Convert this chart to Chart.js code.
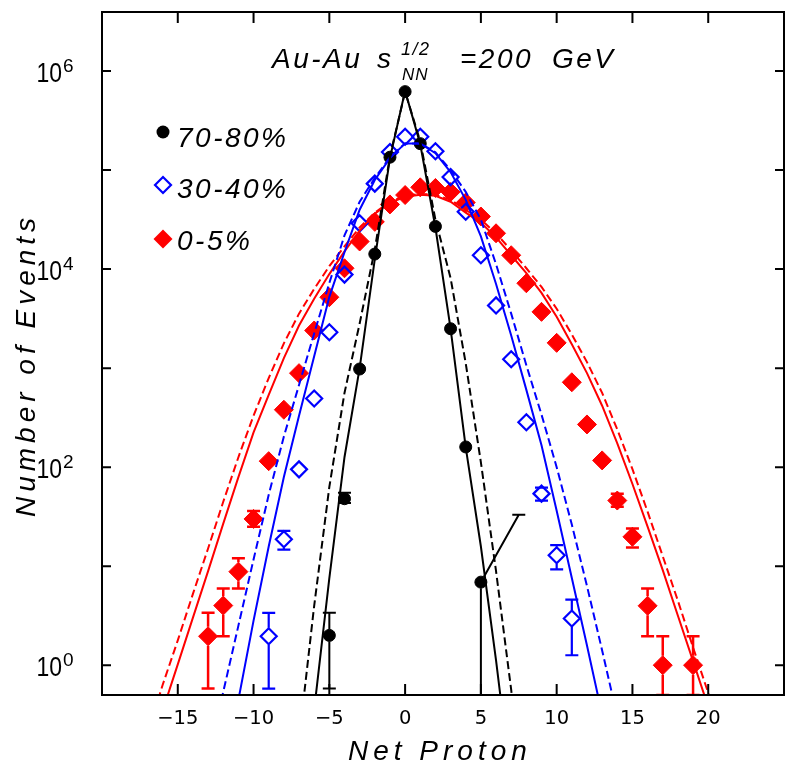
<!DOCTYPE html>
<html>
<head>
<meta charset="utf-8">
<script src="https://cdn.jsdelivr.net/npm/chart.js@4.4.1/dist/chart.umd.min.js"></script>
<style>
html,body{margin:0;padding:0;background:#fff;}
canvas{display:block;}
</style>
</head>
<body>
<canvas id="c" width="785" height="765"></canvas>
<script>
// ---------------- data ----------------
const titleText = ['Au-Au', 's', '1/2', 'NN', '=200', 'GeV'];
const xAxisTitle = 'Net Proton';
const yAxisTitle = 'Number of Events';
const seriesNames = ['70-80%', '30-40%', '0-5%'];

const xTicks = [-15, -10, -5, 0, 5, 10, 15, 20];
const yTickValues = [1, 10, 100, 1000, 1e4, 1e5, 1e6];
const yLabelValues = [1, 100, 1e4, 1e6];
const yLabelExps = ['0', '2', '4', '6'];

// 70-80% centrality (filled circles)
const x7080 = [-5, -4, -3, -2, -1, 0, 1, 2, 3, 4, 5];
const y7080 = [2.0, 48, 980, 14200, 135000, 620000, 185000, 27000, 2500, 160, 6.9];
const lo7080 = [0.58, 43.5, null, null, null, null, null, null, null, null, 0.5];
const hi7080 = [3.38, 55, null, null, null, null, null, null, null, null, 33];
const hiX7080 = [null, null, null, null, null, null, null, null, null, null, 7.5]; // upper bar drawn slanted in the source

// 30-40% centrality (open diamonds)
const x3040 = [-9, -8, -7, -6, -5, -4, -3, -2, -1, 0, 1, 2, 3, 4, 5, 6, 7, 8, 9, 10, 11];
const y3040 = [1.96, 18.7, 95, 494, 2300, 8800, 29000, 73000, 152000, 217000, 217000, 155000, 85000, 38000, 13800, 4300, 1230, 284, 54, 12.9, 2.96];
const lo3040 = [0.58, 14.7, null, null, null, null, null, null, null, null, null, null, null, null, null, null, null, null, 46, 9.3, 1.26];
const hi3040 = [3.38, 22.7, null, null, null, null, null, null, null, null, null, null, null, null, null, null, null, null, 62, 16.3, 4.6];

// 0-5% centrality (filled diamonds)
const x05 = [-13, -12, -11, -10, -9, -8, -7, -6, -5, -4, -3, -2, -1, 0, 1, 2, 3, 4, 5, 6, 7, 8, 9, 10, 11, 12, 13, 14, 15, 16, 17, 19];
const y05 = [1.96, 4.0, 8.8, 30, 115, 380, 890, 2400, 5200, 10200, 19000, 30000, 45000, 56000, 67000, 66000, 60000, 47000, 34000, 23000, 13800, 7200, 3700, 1800, 720, 270, 117, 46, 19.8, 3.98, 1, 1];
const lo05 = [0.58, 1.96, 5.95, 25, null, null, null, null, null, null, null, null, null, null, null, null, null, null, null, null, null, null, null, null, null, null, null, 39.8, 15.4, 1.96, 0.5, 0.5];
const hi05 = [3.38, 5.95, 12, 36, null, null, null, null, null, null, null, null, null, null, null, null, null, null, null, null, null, null, null, null, null, null, null, 54, 24, 5.95, 1.96, 1.96];

// model curves (solid and dashed), read at integer net-proton values
const xBlackSolid = [-6, -5, -4, -3, -2, -1, 0, 1, 2, 3, 4, 5, 6, 7];
const yBlackSolid = [0.355, 7.59, 126, 1000, 12600, 132000, 631000, 182000, 26300, 2510, 158, 15.8, 1.12, 0.063];
const xBlackDash = [-7, -6, -5, -4, -3, -2, -1, 0, 1, 2, 3, 4, 5, 6, 7, 8];
const yBlackDash = [0.178, 3.98, 63.1, 562, 2820, 15800, 138000, 617000, 195000, 31600, 8130, 1120, 112, 8.91, 0.562, 0.0251];

const xBlueSolid = [-11, -10, -9, -8, -7, -6, -5, -4, -3, -2, -1, 0, 1, 2, 3, 4, 5, 6, 7, 8, 9, 10, 11, 12, 13];
const yBlueSolid = [0.447, 2.82, 15.8, 79.4, 331, 1320, 5250, 14800, 39800, 79400, 132000, 186000, 186000, 148000, 95500, 50100, 21400, 7080, 2140, 603, 166, 36.3, 7.59, 1.58, 0.316];
const xBlueDash = [-13, -12, -11, -10, -9, -8, -7, -6, -5, -4, -3, -2, -1, 0, 1, 2, 3, 4, 5, 6, 7, 8, 9, 10, 11, 12, 13, 14];
const yBlueDash = [0.112, 0.537, 2.51, 11.7, 52.5, 204, 676, 2240, 7240, 21900, 47900, 83200, 135000, 186000, 186000, 151000, 100000, 60300, 31600, 11200, 3550, 1070, 339, 100, 26.3, 6.31, 1.41, 0.302];

const xRedSolid = [-16, -15, -14, -13, -12, -11, -10, -9, -8, -7, -6, -5, -4, -3, -2, -1, 0, 1, 2, 3, 4, 5, 6, 7, 8, 9, 10, 11, 12, 13, 14, 15, 16, 17, 18, 19, 20];
const yRedSolid = [0.347, 1.02, 3.02, 8.91, 26.9, 79.4, 224, 537, 1260, 2690, 5010, 8910, 15100, 24500, 36300, 46800, 53700, 56200, 55000, 47900, 37200, 29500, 20900, 13800, 9120, 5750, 3310, 1740, 891, 417, 174, 67.6, 25.1, 9.12, 3.16, 1.10, 0.380];
const xRedDash = [-17, -16, -15, -14, -13, -12, -11, -10, -9, -8, -7, -6, -5, -4, -3, -2, -1, 0, 1, 2, 3, 4, 5, 6, 7, 8, 9, 10, 11, 12, 13, 14, 15, 16, 17, 18, 19, 20, 21];
const yRedDash = [0.2, 0.631, 1.78, 5.25, 15.1, 44.7, 126, 331, 794, 1780, 3550, 6310, 10700, 17000, 26300, 37200, 47900, 55000, 57500, 56200, 50100, 39800, 31600, 22900, 15500, 10200, 6610, 3980, 2190, 1150, 562, 240, 95.5, 35.5, 12.6, 4.47, 1.51, 0.525, 0.178];

// ---------------- helpers ----------------
const BLACK = '#000000', BLUE = '#0000ff', RED = '#ff0000';
const TEXT_FONT = '"Liberation Sans", Arial, sans-serif';
function pts(xs, ys) { return xs.map((v, i) => ({ x: v, y: ys[i] })); }

const errorSets = [
  { xs: x7080, ys: y7080, lo: lo7080, hi: hi7080, hiX: hiX7080, color: BLACK, gap: 6, lw: 2 },
  { xs: x3040, ys: y3040, lo: lo3040, hi: hi3040, hiX: null, color: BLUE, gap: 8.5, lw: 2.2 },
  { xs: x05, ys: y05, lo: lo05, hi: hi05, hiX: null, color: RED, gap: 9.5, lw: 2.5 }
];

const overlayPlugin = {
  id: 'overlay',
  afterDatasetsDraw(chart) {
    const { ctx, chartArea: a, scales: { x, y } } = chart;
    ctx.save();
    ctx.beginPath();
    ctx.rect(a.left, a.top, a.right - a.left, a.bottom - a.top + 1);
    ctx.clip();
    const cap = 6.5;
    errorSets.forEach(s => {
      ctx.strokeStyle = s.color;
      ctx.lineWidth = s.lw;
      s.xs.forEach((xv, i) => {
        const lo = s.lo[i], hi = s.hi[i];
        if (lo == null && hi == null) return;
        const px = x.getPixelForValue(xv);
        const py = y.getPixelForValue(s.ys[i]);
        ctx.beginPath();
        if (hi != null) {
          const hx = (s.hiX && s.hiX[i] != null) ? x.getPixelForValue(s.hiX[i]) : px;
          const hy = y.getPixelForValue(hi);
          if (hx !== px) {
            const dx = hx - px, dy = hy - py, L = Math.hypot(dx, dy);
            ctx.moveTo(px + dx / L * s.gap, py + dy / L * s.gap);
            ctx.lineTo(hx, hy);
          } else if (py - hy > s.gap) {
            ctx.moveTo(px, py - s.gap);
            ctx.lineTo(px, hy);
          }
          ctx.moveTo(hx - cap, hy);
          ctx.lineTo(hx + cap, hy);
        }
        if (lo != null) {
          const ly = y.getPixelForValue(lo);
          if (ly - py > s.gap) {
            ctx.moveTo(px, py + s.gap);
            ctx.lineTo(px, ly);
          }
          ctx.moveTo(px - cap, ly);
          ctx.lineTo(px + cap, ly);
        }
        ctx.stroke();
      });
    });
    ctx.restore();
  },
  afterDraw(chart) {
    const { ctx, chartArea: a, scales: { x, y } } = chart;
    ctx.save();
    // frame
    ctx.strokeStyle = BLACK;
    ctx.lineWidth = 2;
    ctx.strokeRect(a.left, a.top, a.right - a.left, a.bottom - a.top);
    // inner ticks
    ctx.beginPath();
    xTicks.forEach(v => {
      const px = x.getPixelForValue(v);
      ctx.moveTo(px, a.bottom); ctx.lineTo(px, a.bottom - 11);
      ctx.moveTo(px, a.top); ctx.lineTo(px, a.top + 11);
    });
    yTickValues.forEach(v => {
      const py = y.getPixelForValue(v);
      ctx.moveTo(a.left, py); ctx.lineTo(a.left + 9, py);
      ctx.moveTo(a.right, py); ctx.lineTo(a.right - 9, py);
    });
    ctx.stroke();

    // y tick labels 10^n
    ctx.fillStyle = BLACK;
    yLabelValues.forEach((v, i) => {
      const py = y.getPixelForValue(v);
      ctx.save();
      ctx.translate(a.left - 40, py + 11);
      ctx.scale(0.82, 1);
      ctx.font = '28px ' + TEXT_FONT;
      ctx.textAlign = 'right';
      ctx.textBaseline = 'alphabetic';
      ctx.fillText('10', 0, 0);
      ctx.restore();
      ctx.font = '19px ' + TEXT_FONT;
      ctx.textAlign = 'left';
      ctx.fillText(yLabelExps[i], a.left - 39, py + 1);
    });

    // italic texts
    ctx.textAlign = 'left';
    ctx.textBaseline = 'alphabetic';
    const it = (size, spacing) => {
      ctx.font = 'italic ' + size + 'px ' + TEXT_FONT;
      try { ctx.letterSpacing = spacing + 'px'; } catch (e) {}
    };
    // title
    it(28, 2.5);
    ctx.fillText(titleText[0], 272, 68);
    ctx.fillText(titleText[1], 377, 68);
    ctx.fillText(titleText[4], 460, 68);
    ctx.fillText(titleText[5], 552, 68);
    it(18, 1.5);
    ctx.fillText(titleText[2], 401, 55);
    it(17, 1);
    ctx.fillText(titleText[3], 402, 80);

    // legend
    const lx = 163;
    const rows = [132, 185, 239];
    const base = [147, 198, 250];
    ctx.fillStyle = BLACK;
    ctx.beginPath(); ctx.arc(lx, rows[0], 6.5, 0, Math.PI * 2); ctx.fill();
    ctx.strokeStyle = BLUE; ctx.lineWidth = 2.2;
    ctx.beginPath();
    ctx.moveTo(lx - 8, rows[1]); ctx.lineTo(lx, rows[1] - 8); ctx.lineTo(lx + 8, rows[1]); ctx.lineTo(lx, rows[1] + 8); ctx.closePath();
    ctx.stroke();
    ctx.fillStyle = RED;
    ctx.beginPath();
    ctx.moveTo(lx - 9.5, rows[2]); ctx.lineTo(lx, rows[2] - 9.5); ctx.lineTo(lx + 9.5, rows[2]); ctx.lineTo(lx, rows[2] + 9.5); ctx.closePath();
    ctx.fill();
    ctx.fillStyle = BLACK;
    it(28, 2.5);
    seriesNames.forEach((n, i) => ctx.fillText(n, 177, base[i]));

    // axis titles
    it(28, 5);
    ctx.fillText(xAxisTitle, 348, 760);
    ctx.save();
    ctx.translate(35, 517);
    ctx.rotate(-Math.PI / 2);
    ctx.fillText(yAxisTitle, 0, 0);
    ctx.restore();
    ctx.restore();
  }
};

const lineDs = (label, xs, ys, color, dash) => ({
  type: 'line', label, data: pts(xs, ys), borderColor: color, borderWidth: 2,
  borderDash: dash ? [8, 4] : [], pointRadius: 0, fill: false, tension: 0, order: 0
});

new Chart(document.getElementById('c'), {
  type: 'line',
  data: {
    datasets: [
      { label: seriesNames[0], data: pts(x7080, y7080), showLine: false, pointStyle: 'circle', pointRadius: 6,
        pointBackgroundColor: BLACK, pointBorderColor: BLACK, pointBorderWidth: 1, order: 1 },
      { label: seriesNames[1], data: pts(x3040, y3040), showLine: false, pointStyle: 'rectRot', pointRadius: 8,
        pointBackgroundColor: 'rgba(255,255,255,0)', pointBorderColor: BLUE, pointBorderWidth: 2.2, order: 2 },
      { label: seriesNames[2], data: pts(x05, y05), showLine: false, pointStyle: 'rectRot', pointRadius: 9.5,
        pointBackgroundColor: RED, pointBorderColor: RED, pointBorderWidth: 1, order: 3 },
      lineDs('70-80% solid', xBlackSolid, yBlackSolid, BLACK, false),
      lineDs('70-80% dashed', xBlackDash, yBlackDash, BLACK, true),
      lineDs('30-40% solid', xBlueSolid, yBlueSolid, BLUE, false),
      lineDs('30-40% dashed', xBlueDash, yBlueDash, BLUE, true),
      lineDs('0-5% solid', xRedSolid, yRedSolid, RED, false),
      lineDs('0-5% dashed', xRedDash, yRedDash, RED, true)
    ]
  },
  options: {
    responsive: false,
    animation: false,
    events: [],
    layout: { autoPadding: false, padding: { left: 0, top: 12, right: 1, bottom: 0 } },
    plugins: { legend: { display: false }, tooltip: { enabled: false }, title: { display: false } },
    scales: {
      x: {
        type: 'linear', min: -20, max: 25,
        afterBuildTicks: s => { s.ticks = xTicks.map(v => ({ value: v })); },
        grid: { display: false, drawTicks: false },
        border: { display: false },
        ticks: {
          color: BLACK, padding: 12, maxRotation: 0, autoSkip: false,
          font: { family: '"DejaVu Sans", sans-serif', size: 19.5 },
          callback: v => String(v).replace('-', '\u2212')
        },
        afterFit: s => { s.height = 70; s.paddingLeft = 0; s.paddingRight = 0; }
      },
      y: {
        type: 'logarithmic', min: 0.5, max: 3.95e6,
        afterBuildTicks: s => { s.ticks = yTickValues.map(v => ({ value: v })); },
        grid: { display: false, drawTicks: false },
        border: { display: false },
        ticks: { display: false },
        afterFit: s => { s.width = 102; s.paddingTop = 0; s.paddingBottom = 0; }
      }
    }
  },
  plugins: [overlayPlugin]
});
</script>
</body>
</html>
